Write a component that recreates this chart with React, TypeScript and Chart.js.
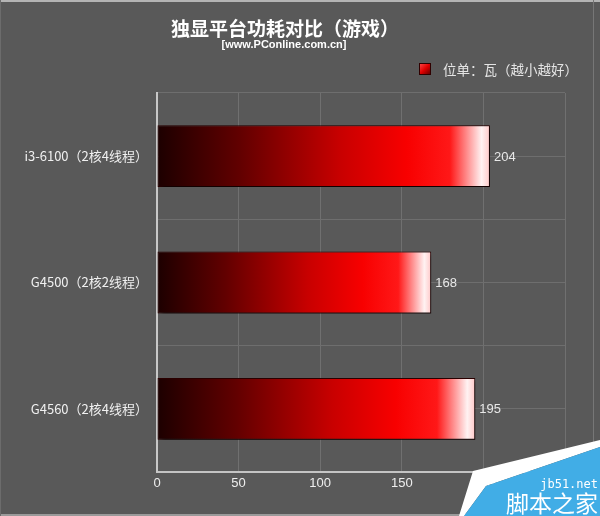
import React, { useEffect, useRef } from "react";
import { Chart, registerables } from "chart.js";

Chart.register(...registerables);

const categories: string[] = ["i3-6100（2核4线程）", "G4500（2核2线程）", "G4560（2核4线程）"];
const powerValues: number[] = [204, 168, 195];
const titleText = "独显平台功耗对比（游戏）";
const subtitleText = "[www.PConline.com.cn]";
const legendText = "位单：瓦（越小越好）";
const xTickMin = 0;
const xTickMax = 250;
const xTickStep = 50;
const watermarkLines: string[] = ["jb51.net", "脚本之家"];

const CJK = '"Noto Sans CJK SC", "Noto Sans", sans-serif';
const LAT = '"Liberation Sans", Arial, sans-serif';

const decorPlugin = {
  id: "decor",
  beforeDraw(chart: any) {
    const { ctx, width, height } = chart;
    ctx.save();
    ctx.fillStyle = "#595959";
    ctx.fillRect(0, 0, width, height);
    ctx.fillStyle = "#b4b4b4";
    ctx.fillRect(0, 0, width, 2);
    ctx.fillStyle = "#9a9a9a";
    ctx.fillRect(0, height - 2, width, 2);
    ctx.fillStyle = "#6c6c6c";
    ctx.fillRect(0, 0, 1, height);
    ctx.fillStyle = "#777777";
    ctx.fillRect(593, 0, 1, height);
    // title
    ctx.fillStyle = "#ffffff";
    ctx.textAlign = "center";
    ctx.textBaseline = "middle";
    ctx.font = `bold 19px ${CJK}`;
    ctx.fillText(titleText, 285, 29);
    ctx.font = `bold 11px ${LAT}`;
    ctx.fillText(subtitleText, 284, 45);
    // legend
    const g = ctx.createLinearGradient(419, 63, 431, 75);
    g.addColorStop(0, "#ff5050");
    g.addColorStop(0.5, "#e00000");
    g.addColorStop(1, "#500000");
    ctx.fillStyle = g;
    ctx.fillRect(419, 63, 12, 12);
    ctx.strokeStyle = "#300000";
    ctx.lineWidth = 1;
    ctx.strokeRect(419.5, 63.5, 11, 11);
    ctx.fillStyle = "#e4e4e4";
    ctx.textAlign = "left";
    ctx.font = `13.5px ${CJK}`;
    ctx.fillText(legendText, 443, 70);
    ctx.restore();
  },
  beforeDatasetsDraw(chart: any) {
    const ctx = chart.ctx;
    ctx.save();
    ctx.shadowColor = "rgba(0,0,0,0.65)";
    ctx.shadowOffsetX = 3;
    ctx.shadowOffsetY = 3;
    ctx.shadowBlur = 4;
  },
  afterDatasetsDraw(chart: any) {
    const ctx = chart.ctx;
    ctx.restore();
    ctx.save();
    const meta = chart.getDatasetMeta(0);
    ctx.fillStyle = "#e8e8e8";
    ctx.font = `13px ${LAT}`;
    ctx.textAlign = "left";
    ctx.textBaseline = "middle";
    meta.data.forEach((el: any, i: number) => {
      ctx.fillText(String(powerValues[i]), el.x + 4, el.y + 1);
    });
    ctx.restore();
  },
  afterDraw(chart: any) {
    const { ctx, width, height } = chart;
    ctx.save();
    ctx.fillStyle = "#ffffff";
    ctx.beginPath();
    ctx.moveTo(473, 471);
    ctx.lineTo(width, 440);
    ctx.lineTo(width, 447);
    ctx.lineTo(486, 486);
    ctx.lineTo(464, height);
    ctx.lineTo(459, height);
    ctx.closePath();
    ctx.fill();
    ctx.fillStyle = "#41ade6";
    ctx.beginPath();
    ctx.moveTo(464, height);
    ctx.lineTo(486, 486);
    ctx.lineTo(width, 447);
    ctx.lineTo(width, height);
    ctx.closePath();
    ctx.fill();
    ctx.fillStyle = "#ffffff";
    ctx.textAlign = "right";
    ctx.textBaseline = "middle";
    ctx.font = `12px "DejaVu Sans Mono", monospace`;
    ctx.fillText(watermarkLines[0], 598, 485);
    ctx.font = `23px ${CJK}`;
    ctx.fillText(watermarkLines[1], 598, 503);
    ctx.restore();
  },
};

export default function App() {
  const canvasRef = useRef<HTMLCanvasElement | null>(null);

  useEffect(() => {
    document.body.style.margin = "0";
    const canvas = canvasRef.current;
    if (!canvas) return;
    const chart = new Chart(canvas, {
      type: "bar",
      data: {
        labels: categories,
        datasets: [
          {
            data: powerValues,
            backgroundColor: (c: any) => {
              const ch = c.chart;
              const xs = ch.scales && ch.scales.x;
              if (!ch.chartArea || !xs || typeof c.raw !== "number") return "#e00000";
              const x0 = xs.getPixelForValue(0);
              const x1 = xs.getPixelForValue(c.raw);
              const g = ch.ctx.createLinearGradient(x0, 0, x1, 0);
              g.addColorStop(0, "#1c0000");
              g.addColorStop(0.25, "#620000");
              g.addColorStop(0.55, "#c80000");
              g.addColorStop(0.75, "#f80000");
              g.addColorStop(0.88, "#ff1818");
              g.addColorStop(0.975, "#fff2f2");
              g.addColorStop(1, "#ffc8c8");
              return g;
            },
            borderColor: "#2a0000",
            borderWidth: 1,
            borderSkipped: false,
            categoryPercentage: 1,
            barPercentage: 0.49,
          },
        ],
      },
      options: {
        indexAxis: "y",
        responsive: false,
        animation: false,
        events: [],
        layout: { padding: { top: 93, right: 35, bottom: 14, left: 0 } },
        plugins: {
          legend: { display: false },
          title: { display: false },
          tooltip: { enabled: false },
        },
        scales: {
          x: {
            type: "linear",
            min: xTickMin,
            max: xTickMax,
            ticks: {
              stepSize: xTickStep,
              color: "#eeeeee",
              font: { family: LAT, size: 13 },
              padding: 4,
            },
            grid: { color: "#707070", lineWidth: 1, drawTicks: false },
            border: { color: "#c4c4c4", width: 2 },
            afterFit: (s: any) => {
              s.height = 30;
            },
          },
          y: {
            type: "category",
            offset: true,
            ticks: {
              color: "#f0f0f0",
              font: { family: CJK, size: 13 },
              padding: 9,
            },
            grid: { color: "#6e6e6e", lineWidth: 1, drawTicks: false, offset: true },
            border: { color: "#c8c8c8", width: 2 },
            afterFit: (s: any) => {
              s.width = 157;
            },
          },
          y2: {
            type: "category",
            labels: categories,
            position: "right",
            offset: true,
            ticks: { display: false },
            grid: { color: "#6e6e6e", lineWidth: 1, drawTicks: false, offset: false },
            border: { display: false },
            afterFit: (s: any) => {
              s.width = 0;
            },
          },
        },
      },
      plugins: [decorPlugin],
    } as any);
    return () => chart.destroy();
  }, []);

  return (
    <div style={{ width: 600, height: 516 }}>
      <canvas ref={canvasRef} width={600} height={516} style={{ display: "block" }} />
    </div>
  );
}
